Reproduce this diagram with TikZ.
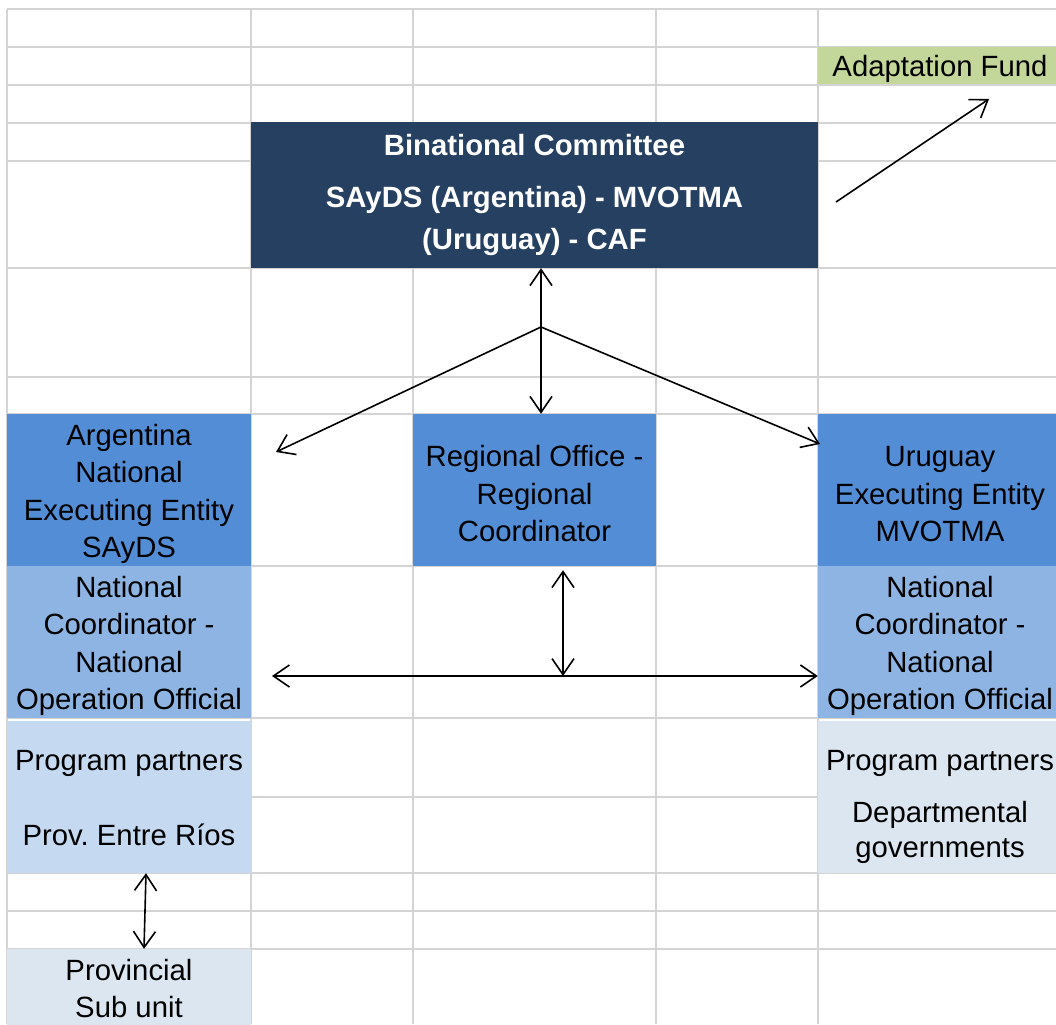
\documentclass[tikz,border=0pt]{standalone}
\usepackage{fontspec}
\setmainfont{Liberation Sans}
\usetikzlibrary{arrows.meta}
\definecolor{gridgray}{RGB}{212,212,212}
\definecolor{boardblue}{RGB}{37,64,97}
\definecolor{entityblue}{RGB}{83,141,213}
\definecolor{coordblue}{RGB}{141,180,226}
\definecolor{partnerblue}{RGB}{197,217,241}
\definecolor{paleblue}{RGB}{220,230,241}
\definecolor{fundgreen}{RGB}{196,215,155}
\newcommand{\cellstrut}{\rule{0pt}{29pt}}

\begin{document}
\begin{tikzpicture}
      [x=1pt,y=-1pt,
        gridline/.style={draw=gridgray,line width=1.5pt},
        cell/.style={inner sep=0pt,align=center,font=\fontsize{29.3}{37.5}\selectfont},
        link/.style={line width=1.6pt,-{Straight Barb[length=16pt,width=22pt]}},
        twoway/.style={line width=1.6pt,{Straight Barb[length=16pt,width=22pt]}-{Straight Barb[length=16pt,width=22pt]}}]
  \clip (0,0) rectangle (1056,1024);
  \fill[white] (0,0) rectangle (1056,1024);
  % sheet grid
  \foreach \y in {9,47,85,123,161,268,377,414,566,718,797,873,911,949}
    \draw[gridline] (7,\y) -- (1056,\y);
  \foreach \x in {7,251,413,656,818}
    \draw[gridline] (\x,9) -- (\x,1024);
  % cells
  \node[cell,fill=fundgreen,minimum width=244pt,minimum height=37pt] (fund) at (940,65.5)
    {\cellstrut Adaptation Fund};
  \node[cell,fill=boardblue,text=white,font=\bfseries\fontsize{29.3}{42}\selectfont,
    minimum width=567pt,minimum height=146pt] (board) at (534.5,195)
    {Binational Committee\\[10pt]SAyDS (Argentina) - MVOTMA\\(Uruguay) - CAF};
  \node[cell,fill=entityblue,minimum width=244pt,minimum height=152pt] (argEE) at (129,490)
    {\cellstrut Argentina\\National\\Executing Entity\\SAyDS};
  \node[cell,fill=entityblue,minimum width=243pt,minimum height=152pt] (regOff) at (534.5,490)
    {\cellstrut Regional Office -\\Regional\\Coordinator};
  \node[cell,fill=entityblue,minimum width=244pt,minimum height=152pt] (uruEE) at (940,490)
    {\cellstrut Uruguay\\Executing Entity\\MVOTMA};
  \node[cell,fill=coordblue,minimum width=244pt,minimum height=152pt] (argNC) at (129,642)
    {\cellstrut National\\Coordinator -\\National\\Operation Official};
  \node[cell,fill=coordblue,minimum width=244pt,minimum height=152pt] (uruNC) at (940,642)
    {\cellstrut National\\Coordinator -\\National\\Operation Official};
  \node[cell,fill=partnerblue,minimum width=244pt,minimum height=152pt] (argPP) at (129,797) {};
  \node[cell,fill=paleblue,minimum width=244pt,minimum height=152pt] (uruPP) at (940,797) {};
  \node[cell,fill=paleblue,minimum width=244pt,minimum height=79pt] (argSub) at (129,988.5)
    {Provincial\\Sub unit};
  % partner texts
  \node[cell] (argPPa) at (129,759) {\cellstrut Program partners};
  \node[cell] (argPPb) at (129,835) {Prov.\ Entre Ríos};
  \node[cell] (uruPPa) at (940,759) {\cellstrut Program partners};
  \node[cell,font=\fontsize{29.3}{35}\selectfont] (uruPPb) at (940,829)
    {\cellstrut Departmental\\governments};
  % links
  \coordinate (fundTail) at (836,202);
  \coordinate (fundHead) at (989,99);
  \coordinate (hub) at (541,327);
  \coordinate (argTip) at (276,452);
  \coordinate (uruTip) at (820,444);
  \coordinate (natL) at (272,676);
  \coordinate (natMid) at (563,676);
  \draw[link] (fundTail) -- (fundHead);
  \draw[twoway] (board.south -| hub) -- (regOff.north -| hub);
  \draw[link] (hub) -- (argTip);
  \draw[link] (hub) -- (uruTip);
  \draw[twoway] (natL) -- (natL -| uruNC.west);
  \draw[twoway] ([yshift=-4pt]natMid |- regOff.south) -- (natMid);
  \draw[twoway] ([xshift=17pt]argPP.south) -- ([xshift=15pt]argSub.north);
 \end{tikzpicture}
\end{document}
